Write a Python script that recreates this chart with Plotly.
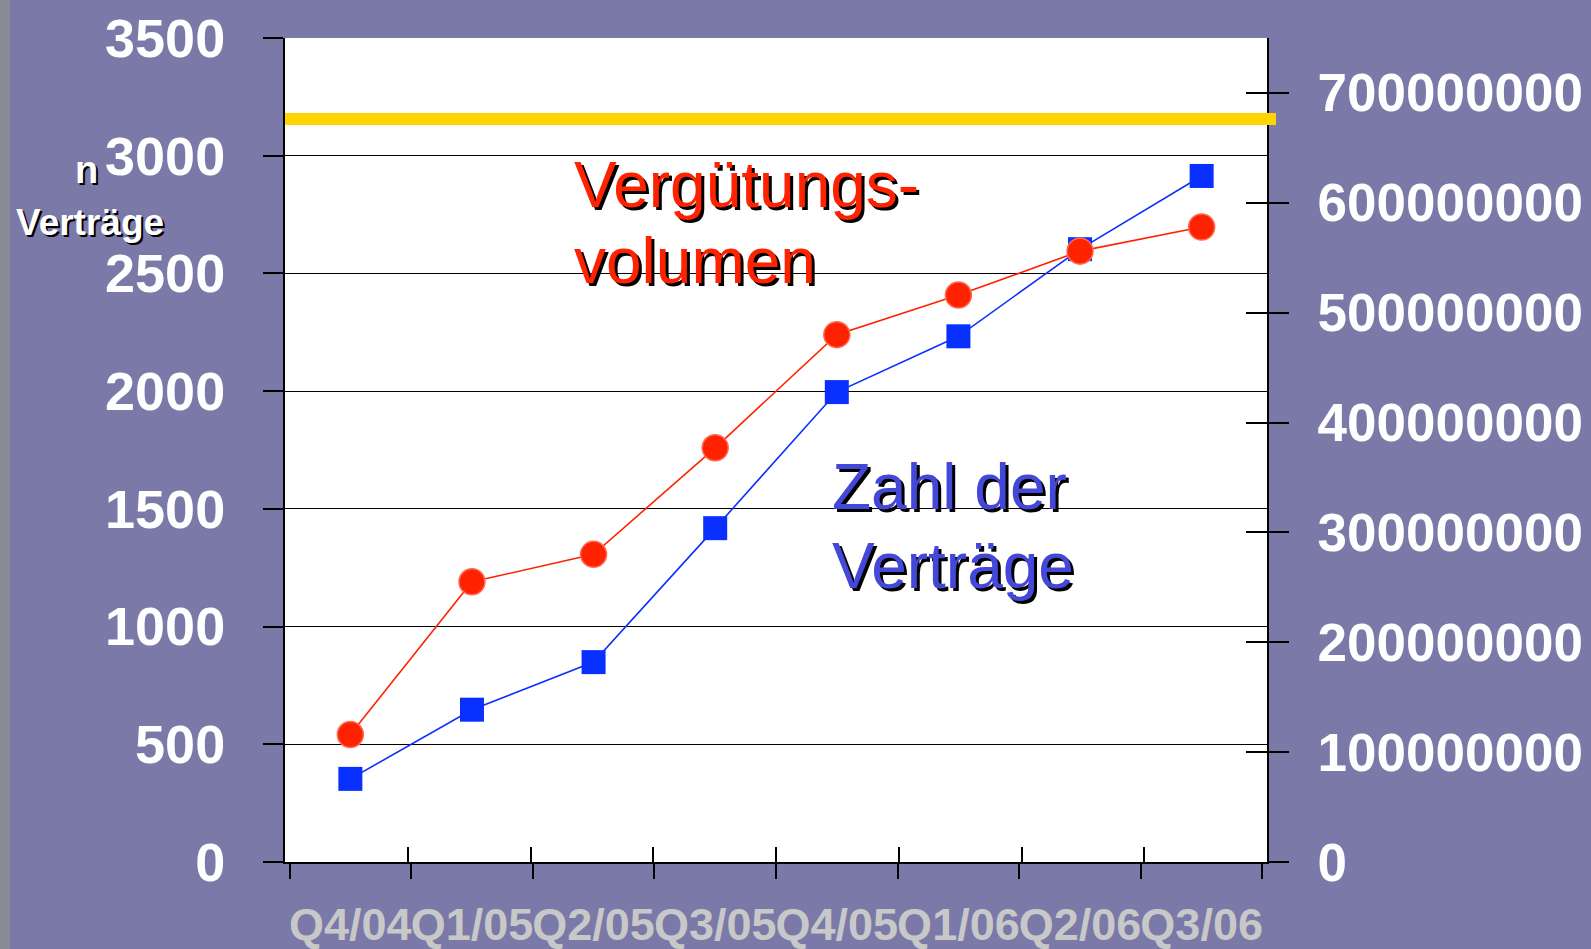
import plotly.graph_objects as go

# ---- data ----
quarters = ["Q4/04", "Q1/05", "Q2/05", "Q3/05", "Q4/05", "Q1/06", "Q2/06", "Q3/06"]
zahl_vertraege = [353, 647, 849, 1418, 1996, 2233, 2603, 2914]
verguetungsvolumen = [116e6, 255e6, 280e6, 377e6, 480e6, 516e6, 556e6, 578e6]
left_ticks = [0, 500, 1000, 1500, 2000, 2500, 3000, 3500]
right_ticks = [0, 100e6, 200e6, 300e6, 400e6, 500e6, 600e6, 700e6]
right_labels = [str(int(v)) for v in right_ticks]
target_level = 3156

# ---- layout geometry ----
W, H = 1591, 949
L, R, T, B = 285, 1267, 38, 862
PW, PH = R - L, B - T

def px(x):
    return (x - L) / PW

def py(y):
    return (B - y) / PH

FONT = "Liberation Sans, Arial, sans-serif"
BG = "#7a79a8"
RED = "#ff2200"
BLUE = "#0a30ff"
TXTBLUE = "#4448d8"

fig = go.Figure()

fig.add_trace(go.Scatter(
    x=quarters, y=zahl_vertraege, mode="lines+markers",
    line=dict(color=BLUE, width=1.6),
    marker=dict(symbol="square", size=24, color=BLUE),
    xaxis="x", yaxis="y", hoverinfo="skip"))

fig.add_trace(go.Scatter(
    x=quarters, y=verguetungsvolumen, mode="lines+markers",
    line=dict(color=RED, width=1.6),
    marker=dict(symbol="circle", size=26, color=RED,
                line=dict(color="#ff6a50", width=1.5)),
    xaxis="x", yaxis="y2", hoverinfo="skip"))

# invisible helpers so overlay axes are drawn
fig.add_trace(go.Scatter(x=[], y=[], xaxis="x2", yaxis="y", hoverinfo="skip", showlegend=False))
fig.add_trace(go.Scatter(x=[], y=[], xaxis="x", yaxis="y3", hoverinfo="skip", showlegend=False))

fig.update_layout(
    width=W, height=H,
    margin=dict(l=L, r=W - R, t=T, b=H - B, autoexpand=False),
    paper_bgcolor=BG, plot_bgcolor="white",
    showlegend=False,
    font=dict(family=FONT),
    xaxis=dict(
        type="category", categoryorder="array", categoryarray=quarters,
        tickson="boundaries", ticks="outside", ticklen=15, tickwidth=1.5,
        tickcolor="black", showline=True, linecolor="black", linewidth=2,
        showgrid=False, zeroline=False, tickangle=0,
        tickfont=dict(family=FONT, size=45, color="#c8c8c8", weight="bold"),
        ticklabelstandoff=22,
    ),
    xaxis2=dict(
        overlaying="x", anchor="y", side="bottom", range=[-0.5, 7.5],
        tick0=-0.5, dtick=1, ticks="inside", ticklen=15, tickwidth=1.5,
        tickcolor="black", showticklabels=False, showgrid=False,
        zeroline=False, showline=False,
    ),
    yaxis=dict(
        range=[0, 3500], tickvals=left_ticks, ticks="outside", ticklen=20,
        tickwidth=1.5, tickcolor="black",
        showgrid=True, gridcolor="black", gridwidth=1.2,
        showline=True, linecolor="black", linewidth=2, zeroline=False,
        tickfont=dict(family=FONT, size=54, color="white", weight="bold"),
        ticklabelstandoff=27,
    ),
    yaxis2=dict(
        overlaying="y", side="right", anchor="x", range=[0, 750e6],
        tickvals=right_ticks, ticktext=right_labels,
        ticks="outside", ticklen=20, tickwidth=1.5, tickcolor="black",
        showgrid=False, zeroline=False,
        showline=True, linecolor="black", linewidth=2,
        tickfont=dict(family=FONT, size=53, color="white", weight="bold"),
        ticklabelstandoff=18,
    ),
    yaxis3=dict(
        overlaying="y", side="right", anchor="x", range=[0, 750e6],
        tickvals=right_ticks, ticks="inside", ticklen=21, tickwidth=1.5,
        tickcolor="black", showticklabels=False, showgrid=False,
        zeroline=False, showline=False,
    ),
)

# yellow reference line
fig.add_shape(type="line", xref="paper", yref="y",
              x0=0, x1=1 + 9 / PW, y0=target_level, y1=target_level,
              line=dict(color="#ffd400", width=12), layer="above")

# left grey strip
fig.add_shape(type="rect", xref="paper", yref="paper",
              x0=px(0), x1=px(10), y0=py(H), y1=py(0),
              fillcolor="#8b8a98", line=dict(width=0), layer="below")

SH = "3px 3px 0px #000000"

def ann(text, x, y, size, color, weight="normal", shadow=SH, xanchor="left"):
    fig.add_annotation(
        text=text, xref="paper", yref="paper", x=px(x), y=py(y),
        xanchor=xanchor, yanchor="middle", showarrow=False,
        font=dict(family=FONT, size=size, color=color, weight=weight, shadow=shadow))

ann("Vergütungs-", 572, 185, 64, RED)
ann("volumen", 572, 261, 64, RED)
ann("Zahl der", 830, 487, 64, TXTBLUE)
ann("Verträge", 830, 566, 64, TXTBLUE)
ann("n", 86, 170, 38, "white", "bold", "2px 2px 0px #000000", xanchor="center")
ann("Verträge", 14, 222, 37, "white", "bold", "2px 2px 0px #000000")

fig.write_html(
    "out.html",
    config={"displayModeBar": False},
    post_script="document.body.style.margin='0';document.body.style.overflow='hidden';",
)
